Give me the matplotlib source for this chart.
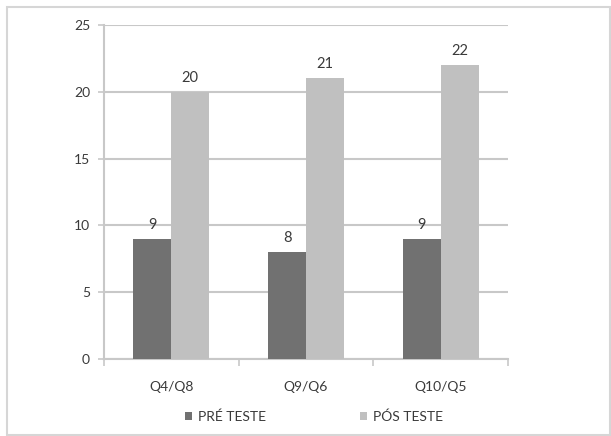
import matplotlib.pyplot as plt
import matplotlib.patches as mpatches
import numpy as np

# Pre/post test scores per question pair
questions = ["Q4/Q8", "Q9/Q6", "Q10/Q5"]
pre_test = [9, 8, 9]
post_test = [20, 21, 22]
series_names = ["PRÉ TESTE", "PÓS TESTE"]

dark = "#717171"
light = "#c0c0c0"
text_color = "#3a3a3a"

plt.rcParams['font.family'] = ['Lato', 'DejaVu Sans']

fig = plt.figure(figsize=(6.11, 4.36), dpi=100)
W, H = 611, 436

# outer chart border
fig.patches.append(mpatches.Rectangle((7 / W, 1 - 435 / H), 603 / W, 428 / H,
                                      transform=fig.transFigure, fill=False,
                                      edgecolor="#d6d6d6", linewidth=1.5))

ax = fig.add_axes([104 / W, 1 - 359 / H, 404 / W, 334 / H])

x = np.arange(len(questions))
width = 0.282
b1 = ax.bar(x - width / 2, pre_test, width, color=dark, label=series_names[0], zorder=3)
b2 = ax.bar(x + width / 2, post_test, width, color=light, label=series_names[1], zorder=3)

for bars in (b1, b2):
    for rect in bars:
        h = rect.get_height()
        ax.annotate(f"{h:g}", (rect.get_x() + rect.get_width() / 2, h),
                    xytext=(0, 5), textcoords="offset points",
                    ha="center", va="bottom", fontsize=10.5, color=text_color)

ax.set_xlim(-0.5, len(questions) - 0.5)
ax.set_ylim(0, 25)
ax.set_yticks(range(0, 26, 5))
ax.yaxis.grid(True, color="#c8c8c8", linewidth=1.5, zorder=0)
ax.set_axisbelow(True)

# category labels centred, tick marks on the category boundaries
ax.set_xticks(x)
ax.set_xticklabels(questions)
ax.set_xticks(np.arange(-0.5, len(questions)), minor=True)
ax.tick_params(axis="x", which="major", length=0, pad=16, labelsize=10, labelcolor=text_color)
ax.tick_params(axis="x", which="minor", length=5, width=1.2, color="#c8c8c8", direction="out")
ax.tick_params(axis="y", length=4, width=1.2, color="#c8c8c8", pad=6, labelsize=10, labelcolor=text_color)

for side in ("top", "right"):
    ax.spines[side].set_visible(False)
for side in ("left", "bottom"):
    ax.spines[side].set_color("#c8c8c8")
    ax.spines[side].set_linewidth(1.5)

fig.legend(handles=[b1, b2], loc="center", bbox_to_anchor=(314 / W, 1 - 417 / H),
           ncol=2, frameon=False, fontsize=10, handlelength=0.5, handleheight=0.5,
           handletextpad=0.4, columnspacing=6.8, labelcolor=text_color)

fig.savefig("out.png", dpi=100)
